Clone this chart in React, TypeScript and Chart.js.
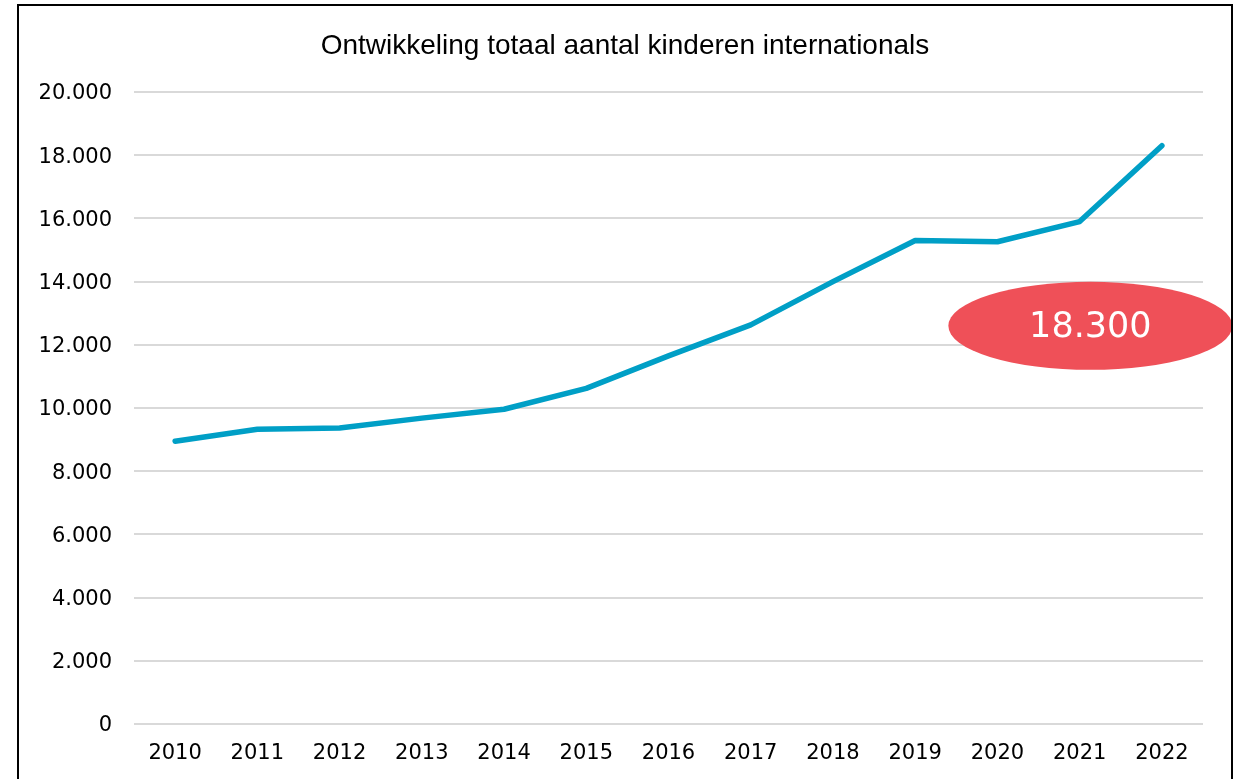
import React, { useEffect, useRef } from "react";
import { Chart, registerables } from "chart.js";

Chart.register(...registerables);

const TITLE = "Ontwikkeling totaal aantal kinderen internationals";
const YEARS = ["2010", "2011", "2012", "2013", "2014", "2015", "2016", "2017", "2018", "2019", "2020", "2021", "2022"];
const KINDEREN = [8950, 9330, 9370, 9680, 9960, 10620, 11650, 12630, 14000, 15300, 15260, 15900, 18300];
const Y_MIN = 0;
const Y_MAX = 20000;
const Y_STEP = 2000;
const CALLOUT_TEXT = "18.300";
const CALLOUT_X_INDEX = 11.13;
const CALLOUT_Y_VALUE = 12600;

const FONT = "'DejaVu Sans', 'Liberation Sans', sans-serif";

function formatNL(v: number): string {
  return String(Math.round(v)).replace(/\B(?=(\d{3})+(?!\d))/g, ".");
}

const calloutPlugin = {
  id: "callout",
  afterDatasetsDraw(chart: any) {
    const { ctx, scales } = chart;
    const cx = scales.x.getPixelForValue(CALLOUT_X_INDEX);
    const cy = scales.y.getPixelForValue(CALLOUT_Y_VALUE);
    ctx.save();
    ctx.beginPath();
    ctx.ellipse(cx, cy, 142, 44, 0, 0, Math.PI * 2);
    ctx.fillStyle = "#EF5058";
    ctx.fill();
    ctx.fillStyle = "#ffffff";
    ctx.font = `35px ${FONT}`;
    ctx.textAlign = "center";
    ctx.textBaseline = "middle";
    ctx.fillText(CALLOUT_TEXT, cx, cy + 2);
    ctx.restore();
  },
};

const titlePlugin = {
  id: "centeredTitle",
  afterDraw(chart: any) {
    const { ctx } = chart;
    ctx.save();
    ctx.fillStyle = "#000000";
    ctx.font = `28px 'Liberation Sans', sans-serif`;
    ctx.textAlign = "center";
    ctx.textBaseline = "middle";
    ctx.fillText(TITLE, 625, 46);
    ctx.restore();
  },
};

export default function App() {
  const ref = useRef<HTMLCanvasElement | null>(null);
  useEffect(() => {
    if (!ref.current) return;
    const chart = new Chart(ref.current, {
      type: "line",
      data: {
        labels: YEARS,
        datasets: [
          {
            data: KINDEREN,
            borderColor: "#009FC6",
            borderWidth: 5.5,
            borderCapStyle: "round",
            borderJoinStyle: "round",
            pointRadius: 0,
            tension: 0,
            fill: false,
          },
        ],
      },
      options: {
        animation: false,
        responsive: false,
        maintainAspectRatio: false,
        layout: { padding: { left: 0, right: 35, top: 92, bottom: 0 } },
        plugins: {
          legend: { display: false },
          tooltip: { enabled: false },
          title: { display: false },
        },
        scales: {
          x: {
            offset: true,
            afterFit(scale: any) {
              scale.height = 55;
            },
            grid: { display: false, drawTicks: false },
            border: { display: false },
            ticks: { color: "#000000", font: { family: FONT, size: 21 }, padding: 17, maxRotation: 0, autoSkip: false },
          },
          y: {
            min: Y_MIN,
            max: Y_MAX,
            afterFit(scale: any) {
              scale.width = 134;
            },
            grid: { color: "#d9d9d9", lineWidth: 2, drawTicks: false },
            border: { display: false },
            ticks: {
              stepSize: Y_STEP,
              color: "#000000",
              font: { family: FONT, size: 21 },
              padding: 22,
              labelOffset: 2,
              callback: (v: any) => formatNL(Number(v)),
            },
          },
        },
      },
      plugins: [calloutPlugin, titlePlugin],
    });
    return () => chart.destroy();
  }, []);

  return (
    <div style={{ position: "fixed", left: 0, top: 0, width: 1238, height: 779, background: "#ffffff", overflow: "hidden" }}>
      <canvas ref={ref} width={1238} height={779} style={{ position: "absolute", left: 0, top: 0, width: 1238, height: 779 }} />
      <div
        style={{
          position: "absolute",
          left: 17,
          top: 4,
          width: 1216,
          height: 800,
          border: "2px solid #000000",
          boxSizing: "border-box",
          pointerEvents: "none",
        }}
      />
    </div>
  );
}
